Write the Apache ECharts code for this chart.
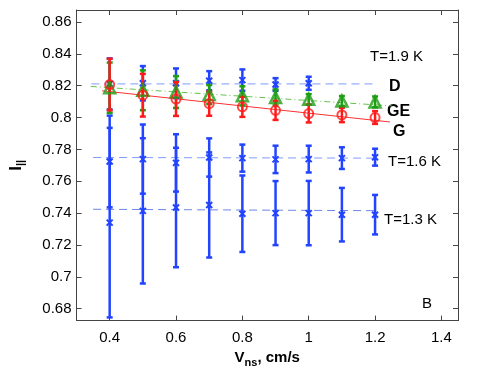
<!DOCTYPE html>
<html>
<head>
<meta charset="utf-8">
<script src="https://cdn.jsdelivr.net/npm/echarts@6/dist/echarts.min.js"></script>
<style>
  html, body { margin: 0; padding: 0; background: #fff; }
  #main { width: 485px; height: 373px; }
</style>
</head>
<body>
<div id="main"></div>
<script>
// velocities (cm/s)
var vns = [0.4, 0.5, 0.6, 0.7, 0.8, 0.9, 1.0, 1.1, 1.2];

// T=1.9 K, D (blue crosses, 0.4 - 1.0)
var d19 = [0.8211, 0.8215, 0.8215, 0.8231, 0.8235, 0.8207, 0.8215];
var d19Err = [0.0160, 0.0108, 0.0093, 0.0060, 0.0067, 0.0040, 0.0041];
// GE (green triangles)
var ge = [0.8187, 0.8171, 0.8160, 0.8144, 0.8136, 0.8126, 0.8114, 0.8104, 0.8098];
var geErr = [0.0158, 0.0125, 0.0100, 0.0060, 0.0060, 0.0050, 0.0033, 0.0031, 0.0034];
// G (red circles)
var g = [0.8207, 0.8140, 0.8116, 0.8087, 0.8067, 0.8045, 0.8025, 0.8016, 0.8000];
var gErr = [0.0162, 0.0134, 0.0106, 0.0076, 0.0063, 0.0060, 0.0056, 0.0045, 0.0040];
// T=1.6 K
var t16 = [0.7724, 0.7739, 0.7715, 0.7749, 0.7745, 0.7737, 0.7739, 0.7745, 0.7751];
var t16Err = [0.0288, 0.0217, 0.0180, 0.0120, 0.0085, 0.0086, 0.0084, 0.0068, 0.0053];
// T=1.3 K
var t13 = [0.7340, 0.7414, 0.7435, 0.7451, 0.7396, 0.7400, 0.7400, 0.7390, 0.7390];
var t13Err = [0.0595, 0.0456, 0.0375, 0.0330, 0.0240, 0.0201, 0.0202, 0.0168, 0.0124];

// fitted lines (end points)
var fitD = [[0.345, 0.8211], [1.2, 0.8211]];
var fit16 = [[0.35, 0.7749], [1.2, 0.7745]];
var fit13 = [[0.35, 0.7424], [1.2, 0.7415]];
var fitGE = [[0.343, 0.8195], [1.25, 0.8073]];
var fitG = [[0.377, 0.8168], [1.245, 0.7972]];

var xTicks = [0.4, 0.6, 0.8, 1.0, 1.2, 1.4];
var yTicks = [0.68, 0.70, 0.72, 0.74, 0.76, 0.78, 0.80, 0.82, 0.84, 0.86];

var BLUE = '#2244ff', GREEN = '#1e9e14', RED = '#ff1a1a';
var FONT = 'Liberation Sans, Arial, sans-serif';

function pts(vals, errs) {
  return vals.map(function (v, i) { return [vns[i], v, errs[i]]; });
}

function errBars(name, data, color, lw, cross) {
  return {
    name: name,
    type: 'custom',
    data: data,
    encode: { x: 0, y: 1 },
    z: 3,
    renderItem: function (params, api) {
      var x = api.value(0), y = api.value(1), e = api.value(2);
      var top = api.coord([x, y + e]);
      var bot = api.coord([x, y - e]);
      var c = api.coord([x, y]);
      var st = { stroke: color, lineWidth: lw };
      var kids = [
        { type: 'line', shape: { x1: top[0], y1: top[1], x2: bot[0], y2: bot[1] }, style: st },
        { type: 'line', shape: { x1: top[0] - 3, y1: top[1], x2: top[0] + 3, y2: top[1] }, style: st },
        { type: 'line', shape: { x1: bot[0] - 3, y1: bot[1], x2: bot[0] + 3, y2: bot[1] }, style: st }
      ];
      if (cross) {
        var r = 3;
        kids.push({ type: 'line', shape: { x1: c[0] - r, y1: c[1] - r, x2: c[0] + r, y2: c[1] + r }, style: { stroke: color, lineWidth: 2 } });
        kids.push({ type: 'line', shape: { x1: c[0] - r, y1: c[1] + r, x2: c[0] + r, y2: c[1] - r }, style: { stroke: color, lineWidth: 2 } });
      }
      return { type: 'group', children: kids };
    }
  };
}

function fitLine(data, color, type) {
  return {
    type: 'line', data: data, symbol: 'none', silent: true, z: 2,
    lineStyle: { color: color, width: 1, type: type }
  };
}

var tickFmt = function (v) { return String(+(+v).toFixed(2)); };

function ticks(vals) {
  return { show: true, inside: true, length: 5, customValues: vals, lineStyle: { color: '#444' } };
}

var axisLine = { show: true, lineStyle: { color: '#444', width: 1 } };

var chart = echarts.init(document.getElementById('main'));
chart.setOption({
  animation: false,
  grid: { left: 64, right: 27, top: 10, bottom: 42 },
  xAxis: [
    {
      type: 'value', min: 0.3, max: 1.45, position: 'bottom',
      name: '{b|V}{s|ns}{b|, cm/s}', nameLocation: 'middle', nameGap: 23,
      nameTextStyle: {
        rich: {
          b: { fontFamily: FONT, fontSize: 15, fontWeight: 'bold', color: '#000' },
          s: { fontFamily: FONT, fontSize: 11, fontWeight: 'bold', color: '#000', padding: [9, 0, 0, 0] }
        }
      },
      axisLine: axisLine, axisTick: ticks(xTicks), splitLine: { show: false },
      axisLabel: { customValues: xTicks, formatter: tickFmt, fontFamily: FONT, fontSize: 15, color: '#000', margin: 10 }
    },
    {
      type: 'value', min: 0.3, max: 1.45, position: 'top',
      axisLine: axisLine, axisTick: ticks(xTicks), splitLine: { show: false },
      axisLabel: { show: false }
    }
  ],
  yAxis: [
    {
      type: 'value', min: 0.6725, max: 0.8675, position: 'left',
      name: '{b|I}{s|||}', nameLocation: 'middle', nameGap: 50, nameRotate: 90,
      nameTextStyle: {
        rich: {
          b: { fontFamily: FONT, fontSize: 17, fontWeight: 'bold', color: '#000' },
          s: { fontFamily: FONT, fontSize: 11, fontWeight: 'bold', color: '#000', padding: [9, 0, 0, 0] }
        }
      },
      axisLine: axisLine, axisTick: ticks(yTicks), splitLine: { show: false },
      axisLabel: { customValues: yTicks, formatter: tickFmt, fontFamily: FONT, fontSize: 15, color: '#000', margin: 5 }
    },
    {
      type: 'value', min: 0.6725, max: 0.8675, position: 'right',
      axisLine: axisLine, axisTick: ticks(yTicks), splitLine: { show: false },
      axisLabel: { show: false }
    }
  ],
  series: [
    fitLine(fitD, '#7f9cff', [8, 5]),
    fitLine(fit16, '#7f9cff', [8, 5]),
    fitLine(fit13, '#6b86e6', [8, 5]),
    fitLine(fitGE, '#66c24a', [6, 3, 1, 3]),
    fitLine(fitG, '#ff3030', 'solid'),
    errBars('T=1.3 K', pts(t13, t13Err), BLUE, 2.5, true),
    errBars('T=1.6 K', pts(t16, t16Err), BLUE, 2.5, true),
    errBars('D', pts(d19, d19Err), BLUE, 2.5, true),
    errBars('GE', pts(ge, geErr), GREEN, 2.5, false),
    {
      type: 'scatter', data: pts(ge, geErr), symbol: 'triangle', symbolSize: 11, z: 4,
      itemStyle: { color: 'rgba(255,255,255,0)', borderColor: GREEN, borderWidth: 2.5 }
    },
    errBars('G', pts(g, gErr), RED, 2.5, false),
    {
      type: 'scatter', data: pts(g, gErr), symbol: 'circle', symbolSize: 9, z: 5,
      itemStyle: { color: 'rgba(255,255,255,0)', borderColor: RED, borderWidth: 2 }
    }
  ],
  graphic: [
    { type: 'text', x: 370, y: 57, style: { text: 'T=1.9 K', font: '15px ' + FONT, fill: '#000', verticalAlign: 'middle' } },
    { type: 'text', x: 389, y: 87, style: { text: 'D', font: 'bold 16px ' + FONT, fill: '#000', verticalAlign: 'middle' } },
    { type: 'text', x: 387, y: 112, style: { text: 'GE', font: 'bold 16px ' + FONT, fill: '#000', verticalAlign: 'middle' } },
    { type: 'text', x: 393, y: 132, style: { text: 'G', font: 'bold 16px ' + FONT, fill: '#000', verticalAlign: 'middle' } },
    { type: 'text', x: 388, y: 162, style: { text: 'T=1.6 K', font: '15px ' + FONT, fill: '#000', verticalAlign: 'middle' } },
    { type: 'text', x: 384, y: 220, style: { text: 'T=1.3 K', font: '15px ' + FONT, fill: '#000', verticalAlign: 'middle' } },
    { type: 'text', x: 422, y: 304, style: { text: 'B', font: '15px ' + FONT, fill: '#000', verticalAlign: 'middle' } }
  ]
});
</script>
</body>
</html>
